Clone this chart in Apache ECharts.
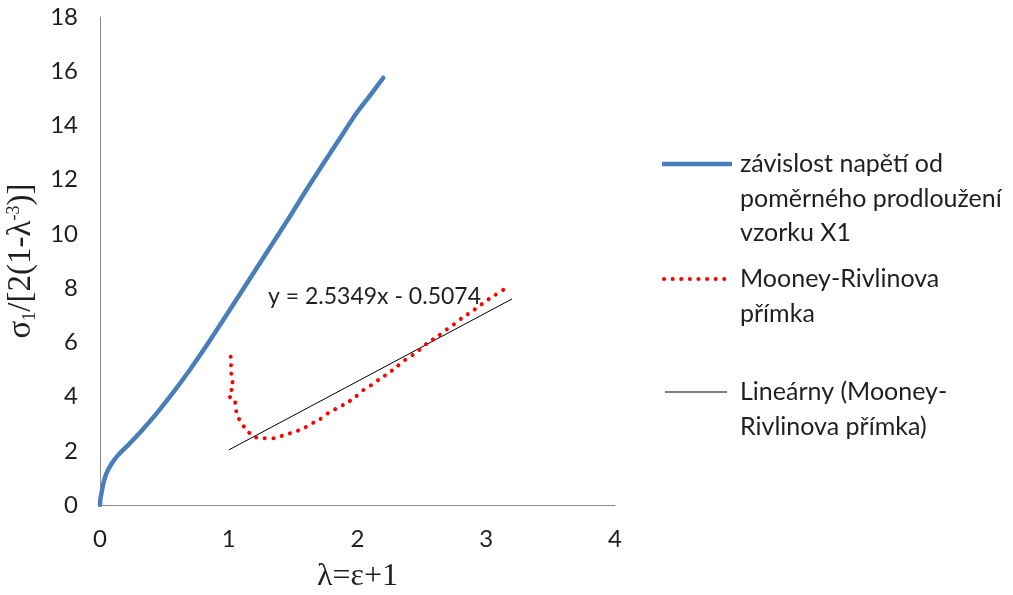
<!DOCTYPE html>
<html>
<head>
<meta charset="utf-8">
<script src="https://cdn.jsdelivr.net/npm/echarts@6/dist/echarts.min.js"></script>
<style>
    html, body { margin: 0; padding: 0; background: #fff; }
    #chart { width: 1013px; height: 595px; }
</style>
</head>
<body>
<div id="chart"></div>
<script>
    // zavislost napeti od pomerneho prodlouzeni (lambda, sigma)
    var blueX = [0, 0.004, 0.012, 0.026, 0.05, 0.09, 0.14, 0.22, 0.32, 0.44, 0.57, 0.70, 0.83, 0.96, 1.09, 1.22, 1.35, 1.48, 1.60, 1.73, 1.86, 1.99, 2.10, 2.20];
    var blueY = [0, 0.25, 0.45, 0.80, 1.17, 1.52, 1.84, 2.22, 2.72, 3.38, 4.16, 5.00, 5.90, 6.84, 7.80, 8.76, 9.72, 10.68, 11.60, 12.56, 13.50, 14.44, 15.12, 15.76];

    // Mooney-Rivlinova primka
    var redX = [1.015, 1.02, 1.015, 1.02, 1.015, 1.03, 1.015, 1.035, 1.005, 1.05, 1.06, 1.09, 1.14, 1.19, 1.27, 1.35, 1.42, 1.50, 1.57, 1.64, 1.71, 1.77, 1.84, 1.92, 1.98, 2.04, 2.11, 2.17, 2.24, 2.30, 2.36, 2.43, 2.49, 2.55, 2.62, 2.68, 2.75, 2.81, 2.88, 2.94, 3.00, 3.07, 3.14];
    var redY = [5.47, 5.25, 5.04, 4.86, 4.68, 4.51, 4.30, 4.14, 3.94, 3.78, 3.41, 3.07, 2.77, 2.52, 2.46, 2.46, 2.56, 2.68, 2.80, 2.99, 3.17, 3.38, 3.57, 3.77, 3.97, 4.22, 4.43, 4.64, 4.86, 5.08, 5.32, 5.54, 5.76, 6.00, 6.21, 6.43, 6.67, 6.89, 7.11, 7.32, 7.53, 7.75, 7.96];

    // Linearny trend: y = 2.5349x - 0.5074
    var trendX = [1.0, 3.2];
    var trendY = [2.03, 7.60];

    var xTicks = [0, 1, 2, 3, 4];
    var yTicks = [0, 2, 4, 6, 8, 10, 12, 14, 16, 18];

    var legendNames = [
        'závislost napětí od\npoměrného prodloužení\nvzorku X1',
        'Mooney-Rivlinova\npřímka',
        'Lineárny (Mooney-\nRivlinova přímka)'
    ];
    var equationText = 'y = 2.5349x - 0.5074';

    function pairs(xs, ys) {
        var out = [];
        for (var i = 0; i < xs.length; i++) out.push([xs[i], ys[i]]);
        return out;
    }

    var font = 'Lato, "Open Sans", sans-serif';
    var serif = '"Liberation Serif", "DejaVu Serif", serif';
    var axisColor = '#898989';
    var textColor = '#1f1f1f';

    var chart = echarts.init(document.getElementById('chart'));
    var option = {
        animation: false,
        grid: { left: 100, right: 398, top: 17, bottom: 90, containLabel: false, outerBoundsMode: 'none' },
        xAxis: {
            type: 'value',
            min: xTicks[0],
            max: xTicks[xTicks.length - 1],
            interval: 1,
            name: 'λ=ε+1',
            nameLocation: 'middle',
            nameGap: 56,
            nameTextStyle: { fontFamily: serif, fontSize: 32, color: textColor },
            axisLine: { show: true, lineStyle: { color: axisColor, width: 1 } },
            axisTick: { show: false },
            splitLine: { show: false },
            axisLabel: { margin: 22, fontFamily: font, fontSize: 24, color: textColor }
        },
        yAxis: {
            type: 'value',
            min: yTicks[0],
            max: yTicks[yTicks.length - 1],
            interval: 2,
            name: '{n|σ}{sub|1}{n|/[2(1-λ}{sup|-3}{n|)]}',
            nameLocation: 'middle',
            nameGap: 54,
            nameRotate: 90,
            nameTextStyle: {
                rich: {
                    n: { fontFamily: serif, fontSize: 33, color: textColor, lineHeight: 38 },
                    sub: { fontFamily: serif, fontSize: 18, color: textColor, padding: [17, 0, 0, 0] },
                    sup: { fontFamily: serif, fontSize: 18, color: textColor, padding: [0, 0, 15, 0] }
                }
            },
            axisLine: { show: true, lineStyle: { color: axisColor, width: 1 } },
            axisTick: { show: false },
            splitLine: { show: false },
            axisLabel: { margin: 22, fontFamily: font, fontSize: 24, color: textColor }
        },
        series: [
            {
                name: legendNames[0],
                type: 'line',
                data: pairs(blueX, blueY),
                smooth: 0.2,
                showSymbol: false,
                lineStyle: { color: '#4a7ebb', width: 4.5, cap: 'round' },
                z: 3
            },
            {
                name: legendNames[1],
                type: 'line',
                data: pairs(redX, redY),
                showSymbol: false,
                smooth: 0.2,
                lineStyle: { color: '#ff0000', width: 4, type: [0.1, 8.5], cap: 'round' },
                z: 2
            },
            {
                name: legendNames[2],
                type: 'line',
                data: pairs(trendX, trendY),
                showSymbol: false,
                lineStyle: { color: '#000000', width: 1 },
                z: 1
            }
        ],
        graphic: [
            { type: 'text', left: 268, top: 285, style: { text: equationText, font: '23px ' + font, fill: textColor } },
            // legend
            { type: 'line', shape: { x1: 662, y1: 164, x2: 732, y2: 164 }, style: { stroke: '#4a7ebb', lineWidth: 4.5 } },
            { type: 'text', left: 740, top: 147, style: { text: legendNames[0], font: '25px ' + font, fill: textColor, lineHeight: 34.5 } },
            { type: 'line', shape: { x1: 664, y1: 279, x2: 728, y2: 279 }, style: { stroke: '#ff0000', lineWidth: 4, lineDash: [0.1, 8.5], lineCap: 'round' } },
            { type: 'text', left: 740, top: 262, style: { text: legendNames[1], font: '25px ' + font, fill: textColor, lineHeight: 34.5 } },
            { type: 'line', shape: { x1: 665, y1: 392, x2: 727, y2: 392 }, style: { stroke: '#000000', lineWidth: 1 } },
            { type: 'text', left: 740, top: 375, style: { text: legendNames[2], font: '25px ' + font, fill: textColor, lineHeight: 34.5 } }
        ]
    };
    chart.setOption(option);
</script>
</body>
</html>
